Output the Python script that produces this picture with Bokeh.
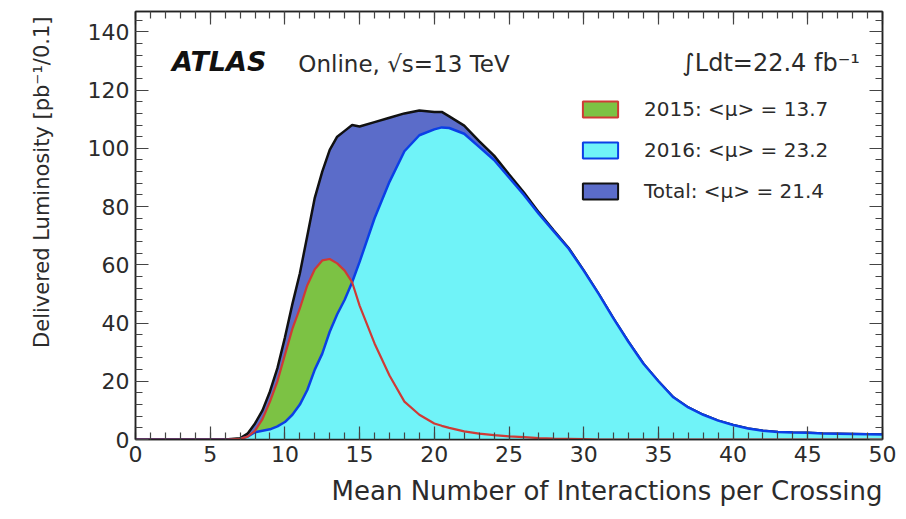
from bokeh.plotting import figure
from bokeh.models import (Range1d, LinearAxis, Label, Legend, LegendItem, Title,
                          SingleIntervalTicker, ColumnDataSource, CustomLabelingPolicy)
from bokeh.embed import file_html
from bokeh.resources import INLINE

# ---- data ----
mu = [0, 6, 7, 7.5, 8, 8.5, 9, 9.5, 10, 10.5, 11, 11.5, 12, 12.5, 13, 13.5, 14, 14.5, 15,
      16, 17, 18, 19, 20, 20.5, 21, 22, 23, 24, 25, 26, 27, 28, 29, 30,
      31, 32, 33, 34, 35, 36, 37, 38, 39, 40, 41, 42, 43, 44, 45, 46, 47, 48, 49, 50]

lumi_2015 = [0, 0, 0.2, 1, 3, 7, 13, 20, 29, 38, 45, 53, 58.5, 61.5, 62, 60.5, 58, 54, 46,
             33, 22, 13, 8.5, 5.5, 4.7, 4, 2.8, 2.0, 1.5, 1.1, 0.8, 0.5, 0.3, 0.2, 0.1,
             0, 0, 0, 0, 0, 0, 0, 0, 0, 0, 0, 0, 0, 0, 0, 0, 0, 0, 0, 0]

lumi_2016 = [0, 0, 0.2, 1, 2.5, 3, 3.5, 4.5, 6, 8.5, 12, 17, 24, 29.5, 37, 43, 48, 54, 61,
             76, 88.5, 99, 104.5, 106.5, 107.2, 107, 105, 100.5, 96, 90, 84, 77.5, 71.5, 65.5, 58,
             50, 41.5, 33.5, 26, 20, 14.5, 11, 8.5, 6.5, 5, 3.8, 3, 2.6, 2.4, 2.3, 2.1, 2.0, 1.9, 1.8, 1.7]

lumi_total = [0, 0, 0.4, 2, 5.5, 10, 16.5, 24.5, 35, 46.5, 57, 70, 83, 92, 99.5, 104, 106, 108, 107.5,
              109, 110.5, 112, 113, 112.5, 112.5, 111, 107.8, 102.5, 97.5, 91.1, 84.8, 78, 71.8, 65.7, 58.1,
              50, 41.5, 33.5, 26, 20, 14.5, 11, 8.5, 6.5, 5, 3.8, 3, 2.6, 2.4, 2.3, 2.1, 2.0, 1.9, 1.8, 1.7]

legend_labels = ["2015: <\u03bc> = 13.7", "2016: <\u03bc> = 23.2", "Total: <\u03bc> = 21.4"]
x_title = "Mean Number of Interactions per Crossing"
y_title = "Delivered Luminosity [pb\u207b\u00b9/0.1]"
x_ticks_interval = 5
y_ticks_interval = 20

# ---- colours ----
C_TOTAL_FILL = "#5b6cc9"
C_TOTAL_LINE = "#111111"
C_2016_FILL = "#70f3f8"
C_2016_LINE = "#0b3fe6"
C_2015_FILL = "#7cc244"
C_2015_LINE = "#cf3a36"
FONT = "DejaVu Sans"
TXT = "#2b2b2b"

src = ColumnDataSource(dict(mu=mu, l15=lumi_2015, l16=lumi_2016, tot=lumi_total))

p = figure(width=906, height=519, x_range=Range1d(0, 50), y_range=Range1d(0, 147),
           output_backend="svg", toolbar_location=None,
           min_border_left=135, min_border_right=24, min_border_top=8, min_border_bottom=4)
p.grid.visible = False
p.outline_line_color = "#222222"
p.outline_line_width = 1.5
p.background_fill_color = "white"
p.border_fill_color = "white"

# fills & outlines
p.varea(x="mu", y1=0, y2="tot", source=src, fill_color=C_TOTAL_FILL)
p.line(x="mu", y="tot", source=src, line_color=C_TOTAL_LINE, line_width=2.5)
p.varea(x="mu", y1=0, y2="l15", source=src, fill_color=C_2015_FILL)
p.varea(x="mu", y1=0, y2="l16", source=src, fill_color=C_2016_FILL)
p.line(x="mu", y="l16", source=src, line_color=C_2016_LINE, line_width=2.5)
p.line(x="mu", y="l15", source=src, line_color=C_2015_LINE, line_width=2.2)

# axes (ROOT style: ticks inside, mirrored)
hide_labels = CustomLabelingPolicy(code="return new Set()")

def style_axis(ax, labels=True):
    ax.major_tick_in = 13
    ax.major_tick_out = 0
    ax.minor_tick_in = 7
    ax.minor_tick_out = 0
    ax.axis_line_color = "#222222"
    ax.axis_line_width = 1.5
    ax.major_tick_line_color = "#444444"
    ax.minor_tick_line_color = "#444444"
    ax.major_tick_line_width = 1.2
    ax.minor_tick_line_width = 1.2
    if labels:
        ax.major_label_text_font = FONT
        ax.major_label_text_font_size = "22px"
        ax.major_label_text_color = TXT
        ax.major_label_standoff = 6
    else:
        ax.major_label_policy = hide_labels
        ax.major_label_standoff = 0

xt = SingleIntervalTicker(interval=x_ticks_interval, num_minor_ticks=5)
yt = SingleIntervalTicker(interval=y_ticks_interval, num_minor_ticks=5)
p.xaxis.ticker = xt
p.yaxis.ticker = yt
style_axis(p.xaxis[0])
style_axis(p.yaxis[0])
top_ax = LinearAxis(ticker=xt)
right_ax = LinearAxis(ticker=yt)
style_axis(top_ax, labels=False)
style_axis(right_ax, labels=False)
p.add_layout(top_ax, "above")
p.add_layout(right_ax, "right")

# axis titles (right/top-aligned, ROOT style)
p.add_layout(Title(text=x_title, align="right", text_font=FONT, text_font_size="26px",
                   text_color=TXT, text_font_style="normal", standoff=23,
                   vertical_align="top"), "below")
p.add_layout(Title(text=y_title, align="right", text_font=FONT, text_font_size="21px",
                   text_color=TXT, text_font_style="normal", standoff=58, offset=5,
                   vertical_align="top"), "left")

# texts inside the frame
p.add_layout(Label(x=2.45, y=124.6, text="ATLAS", text_font=FONT, text_font_size="27px",
                   text_font_style="bold italic", text_color="#111111"))
p.add_layout(Label(x=10.9, y=124.6, text="Online, \u221as=13 TeV", text_font=FONT,
                   text_font_size="23px", text_color=TXT))
p.add_layout(Label(x=36.6, y=124.6, text="\u222bLdt=22.4 fb\u207b\u00b9", text_font=FONT,
                   text_font_size="24px", text_color=TXT))

# legend (swatches from renderers with no visible data)
nan = float("nan")
r15 = p.quad(left=[nan], right=[nan], top=[nan], bottom=[nan], fill_color=C_2015_FILL,
             line_color=C_2015_LINE, line_width=2)
r16 = p.quad(left=[nan], right=[nan], top=[nan], bottom=[nan], fill_color=C_2016_FILL,
             line_color=C_2016_LINE, line_width=2)
rtot = p.quad(left=[nan], right=[nan], top=[nan], bottom=[nan], fill_color=C_TOTAL_FILL,
              line_color=C_TOTAL_LINE, line_width=2)
legend = Legend(items=[LegendItem(label=legend_labels[0], renderers=[r15]),
                       LegendItem(label=legend_labels[1], renderers=[r16]),
                       LegendItem(label=legend_labels[2], renderers=[rtot])],
                location=(443, 236), padding=0, margin=0, spacing=17,
                glyph_width=44, glyph_height=20, label_standoff=22,
                label_text_font=FONT, label_text_font_size="20px", label_text_color=TXT,
                border_line_color=None, background_fill_alpha=0)
p.add_layout(legend)

open("out.html", "w").write(file_html(p, INLINE))
